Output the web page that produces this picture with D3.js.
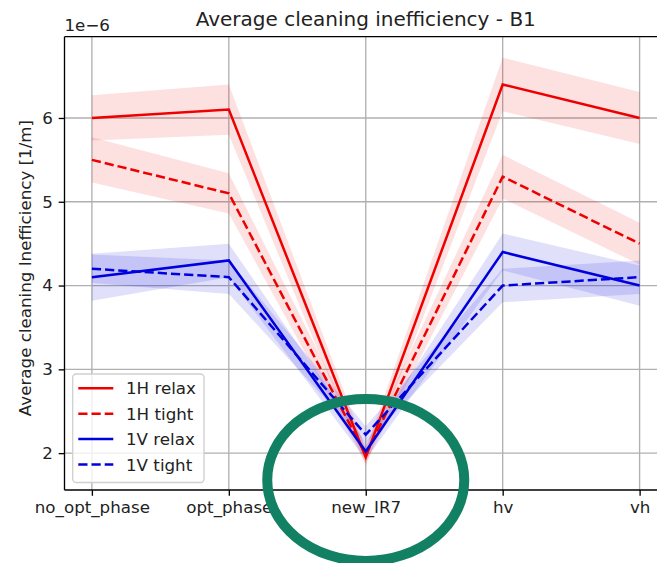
<!DOCTYPE html>
<html>
<head>
<meta charset="utf-8">
<script src="https://cdn.jsdelivr.net/npm/d3@7"></script>
<style>
  html, body { margin: 0; padding: 0; background: #ffffff; }
  svg { display: block; font-family: "DejaVu Sans", sans-serif; }
</style>
</head>
<body>
<svg id="chart" width="657" height="563"></svg>
<script>
// ---- data ----
const categories = ["no_opt_phase", "opt_phase", "new_IR7", "hv", "vh"];
const yTicks = [2, 3, 4, 5, 6];

const h_relax_mean = [6.0, 6.1, 1.95, 6.4, 6.0];
const h_relax_std  = [0.27, 0.30, 0.10, 0.32, 0.31];
const h_tight_mean = [5.5, 5.1, 1.98, 5.3, 4.5];
const h_tight_std  = [0.27, 0.24, 0.10, 0.26, 0.25];
const v_relax_mean = [4.1, 4.3, 2.02, 4.4, 4.0];
const v_relax_std  = [0.28, 0.20, 0.10, 0.22, 0.24];
const v_tight_mean = [4.2, 4.1, 2.22, 4.0, 4.1];
const v_tight_std  = [0.17, 0.20, 0.10, 0.20, 0.20];

const seriesNames = ["1H relax", "1H tight", "1V relax", "1V tight"];

const series = [
  { name: seriesNames[0], mean: h_relax_mean, std: h_relax_std, color: "#ee0000", dash: null },
  { name: seriesNames[1], mean: h_tight_mean, std: h_tight_std, color: "#ee0000", dash: "9.2,4" },
  { name: seriesNames[2], mean: v_relax_mean, std: v_relax_std, color: "#0000dd", dash: null },
  { name: seriesNames[3], mean: v_tight_mean, std: v_tight_std, color: "#0000dd", dash: "9.2,4" }
];

// ---- layout ----
const pL = 64.5, pR = 667, pT = 36.7, pB = 490;
const fs = 16.7;

const svg = d3.select("#chart");

const x = d3.scaleLinear().domain([-0.2, categories.length - 1 + 0.2]).range([pL, pR]);
const y = d3.scaleLinear().domain([1.56, 6.97]).range([pB, pT]);

svg.append("defs").append("clipPath").attr("id", "plotclip")
  .append("rect").attr("x", pL).attr("y", pT).attr("width", pR - pL).attr("height", pB - pT);

// grid
const grid = svg.append("g");
grid.selectAll("line.gx").data(categories).enter().append("line")
  .attr("x1", (d, i) => x(i)).attr("x2", (d, i) => x(i))
  .attr("y1", pT).attr("y2", pB)
  .attr("stroke", "#b0b0b0").attr("stroke-width", 1.33);
grid.selectAll("line.gy").data(yTicks).enter().append("line")
  .attr("x1", pL).attr("x2", pR)
  .attr("y1", d => y(d)).attr("y2", d => y(d))
  .attr("stroke", "#b0b0b0").attr("stroke-width", 1.33);

const plot = svg.append("g").attr("clip-path", "url(#plotclip)");

// bands
const area = d3.area()
  .x(d => x(d.i))
  .y0(d => y(d.m - d.s))
  .y1(d => y(d.m + d.s));
const line = d3.line().x(d => x(d.i)).y(d => y(d.m));

series.forEach(s => {
  const pts = s.mean.map((m, i) => ({ i, m, s: s.std[i] }));
  plot.append("path").attr("d", area(pts))
    .attr("fill", s.color).attr("fill-opacity", 0.12).attr("stroke", "none");
});
series.forEach(s => {
  const pts = s.mean.map((m, i) => ({ i, m, s: s.std[i] }));
  plot.append("path").attr("d", line(pts))
    .attr("fill", "none").attr("stroke", s.color).attr("stroke-width", 2.5)
    .attr("stroke-dasharray", s.dash);
});

// axes
const xAxis = d3.axisBottom(x).tickValues(d3.range(categories.length))
  .tickFormat(i => categories[i]).tickSize(5.8).tickPadding(5.8);
const gx = svg.append("g").attr("transform", `translate(0,${pB})`).call(xAxis);
const yAxis = d3.axisLeft(y).tickValues(yTicks).tickFormat(d3.format("d"))
  .tickSize(5.8).tickPadding(5.8);
const gy = svg.append("g").attr("transform", `translate(${pL},0)`).call(yAxis);
[gx, gy].forEach(g => {
  g.select(".domain").remove();
  g.selectAll(".tick line").attr("stroke", "#000").attr("stroke-width", 1.33);
  g.selectAll(".tick text").attr("font-size", fs).attr("fill", "#222")
    .attr("font-family", "DejaVu Sans");
});

// spines
[[pL, pR, pT, pT], [pL, pR, pB, pB], [pL, pL, pT, pB], [pR, pR, pT, pB]].forEach(c => {
  svg.append("line").attr("x1", c[0]).attr("x2", c[1]).attr("y1", c[2]).attr("y2", c[3])
    .attr("stroke", "#000").attr("stroke-width", 1.33);
});

// title, offset text, ylabel
svg.append("text").attr("x", (pL + pR) / 2).attr("y", 26)
  .attr("text-anchor", "middle").attr("font-size", 20).attr("fill", "#222")
  .text("Average cleaning inefficiency - B1");
svg.append("text").attr("x", pL).attr("y", 30.5)
  .attr("text-anchor", "start").attr("font-size", fs).attr("fill", "#222")
  .text("1e\u22126");
svg.append("text").attr("transform", `translate(30.5,268) rotate(-90)`)
  .attr("text-anchor", "middle").attr("font-size", fs).attr("fill", "#222")
  .text("Average cleaning Inefficiency [1/m]");

// legend
const lg = svg.append("g");
lg.append("rect").attr("x", 72.7).attr("y", 374).attr("width", 131.3).attr("height", 108.5)
  .attr("rx", 3.5).attr("fill", "#fff").attr("fill-opacity", 0.8)
  .attr("stroke", "#d0d0d0").attr("stroke-width", 1.33);
series.forEach((s, k) => {
  const yy = 388.3 + k * 25.4;
  lg.append("line").attr("x1", 78.3).attr("x2", 113.3).attr("y1", yy).attr("y2", yy)
    .attr("stroke", s.color).attr("stroke-width", 2.5).attr("stroke-dasharray", s.dash);
  lg.append("text").attr("x", 126).attr("y", yy + 6).attr("font-size", fs).attr("fill", "#222")
    .text(s.name);
});

// annotation ellipse
svg.append("ellipse").attr("cx", x(2)).attr("cy", 480).attr("rx", 98.5).attr("ry", 81)
  .attr("fill", "none").attr("stroke", "#128062").attr("stroke-width", 10);
</script>
</body>
</html>
